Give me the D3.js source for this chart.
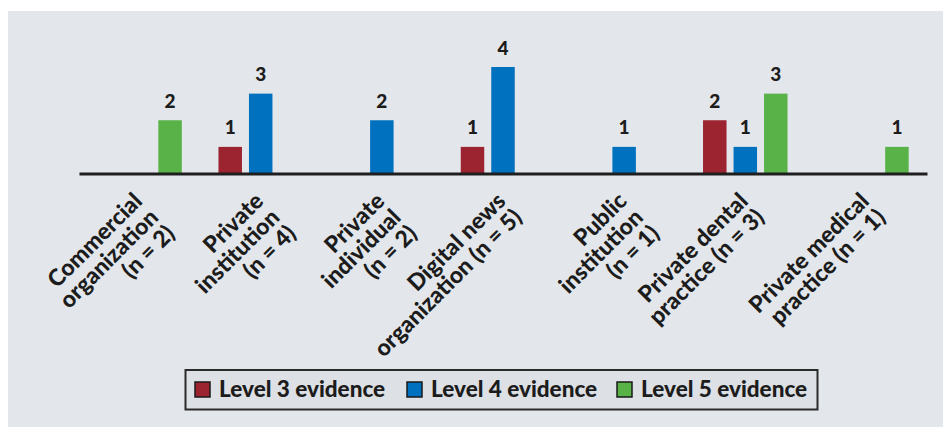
<!DOCTYPE html>
<html>
<head>
<meta charset="utf-8">
<script src="https://cdn.jsdelivr.net/npm/d3@7"></script>
<style>
  html, body { margin: 0; padding: 0; background: #ffffff; }
  svg { display: block; }
  text { font-family: Lato, "Open Sans", sans-serif; font-weight: 700; fill: #1c1c1c; }
</style>
</head>
<body>
<svg id="chart" width="943" height="427"></svg>
<script>
// Organisation types (label lines) and evidence counts per level
const categories = [
  ["Commercial", "organization", "(n = 2)"],
  ["Private", "institution", "(n = 4)"],
  ["Private", "individual", "(n = 2)"],
  ["Digital news", "organization (n = 5)"],
  ["Public", "institution", "(n = 1)"],
  ["Private dental", "practice (n = 3)"],
  ["Private medical", "practice (n = 1)"]
];
const seriesNames = ["Level 3 evidence", "Level 4 evidence", "Level 5 evidence"];
const level3 = [0, 1, 0, 1, 0, 2, 0];
const level4 = [0, 3, 2, 4, 1, 1, 0];
const level5 = [2, 0, 0, 0, 0, 3, 1];
const colors = ["#9c2330", "#0071bf", "#58b247"];

const seriesValues = [level3, level4, level5];
const catKeys = categories.map(d => d.join(" "));

const svg = d3.select("#chart");
const W = 943, H = 427;

// grey panel
svg.append("rect")
  .attr("x", 8).attr("y", 11)
  .attr("width", W - 8).attr("height", H - 11)
  .attr("fill", "#e3e7eb");

const baseY = 173.5;
const x0 = d3.scaleBand().domain(catKeys).range([79, 927]).padding(0);
const x1 = d3.scaleBand().domain(seriesNames)
  .range([(x0.bandwidth() - 84.5) / 2, (x0.bandwidth() + 84.5) / 2])
  .paddingInner(0.23).paddingOuter(0);
const y = d3.scaleLinear().domain([0, 4]).range([baseY, 67]);

// bars
const groups = svg.append("g").selectAll("g")
  .data(catKeys)
  .join("g")
  .attr("transform", d => `translate(${x0(d)},0)`);

const cells = groups.selectAll("g")
  .data((d, i) => seriesNames.map((s, j) => ({ series: s, j, value: seriesValues[j][i] })).filter(c => c.value > 0))
  .join("g");

cells.append("rect")
  .attr("x", c => x1(c.series))
  .attr("width", x1.bandwidth())
  .attr("y", c => y(c.value))
  .attr("height", c => y(0) - y(c.value))
  .attr("fill", c => colors[c.j]);

cells.append("text")
  .attr("x", c => x1(c.series) + x1.bandwidth() / 2)
  .attr("y", c => y(c.value) - 12.5)
  .attr("text-anchor", "middle")
  .style("font-size", "19px")
  .style("font-weight", 900)
  .text(c => c.value);

// category axis
const axis = svg.append("g")
  .attr("transform", `translate(0,${baseY})`)
  .call(d3.axisBottom(x0).tickSize(0).tickSizeOuter(0));
axis.select(".domain").attr("stroke", "#1e1e1e").attr("stroke-width", 3);
axis.selectAll(".tick text").remove();
axis.selectAll(".tick").each(function (d, i) {
  const t = d3.select(this).append("text")
    .attr("transform", "translate(4,29) rotate(-45)")
    .attr("text-anchor", "end")
    .attr("fill", "#1c1c1c")
    .style("font-size", "23px")
    .style("font-weight", 900);
  categories[i].forEach((line, k) => {
    t.append("tspan").attr("x", 0).attr("dy", k === 0 ? 0 : 23).text(line);
  });
});

// legend
const legend = svg.append("g").attr("transform", "translate(185.5,370)");
legend.append("rect")
  .attr("width", 632).attr("height", 39.5)
  .attr("fill", "#dde0e4")
  .attr("stroke", "#2a2a2a").attr("stroke-width", 2);
const itemX = [9.5, 221.5, 431.5];
const items = legend.selectAll("g.item")
  .data(seriesNames)
  .join("g").attr("class", "item")
  .attr("transform", (d, i) => `translate(${itemX[i]},12)`);
items.append("rect")
  .attr("width", 15).attr("height", 15)
  .attr("fill", (d, i) => colors[i])
  .attr("stroke", "#1a1a1a").attr("stroke-width", 1.5);
items.append("text")
  .attr("x", 24).attr("y", 14.5)
  .style("font-size", "22.5px")
  .style("font-weight", 900)
  .text(d => d);
</script>
</body>
</html>
